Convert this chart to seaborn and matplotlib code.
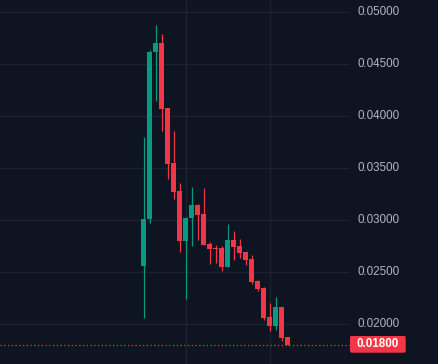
import matplotlib
matplotlib.use("Agg")
import matplotlib.pyplot as plt
import seaborn as sns
import pandas as pd
from matplotlib.patches import FancyBboxPatch

# ---- data ----
opens  = [0.02561, 0.03010, 0.04618, 0.04705, 0.04080, 0.03551, 0.03282, 0.02801,
          0.03022, 0.03147, 0.03061, 0.02772, 0.02734, 0.02734, 0.02551, 0.02811,
          0.02753, 0.02695, 0.02628, 0.02416, 0.02349, 0.02070, 0.01984, 0.02166,
          0.01878]
highs  = [0.03801, 0.04638, 0.04878, 0.04791, 0.04080, 0.03859, 0.03359, 0.03032,
          0.03320, 0.03157, 0.03311, 0.02791, 0.02762, 0.02753, 0.02964, 0.02897,
          0.02820, 0.02705, 0.02666, 0.02426, 0.02359, 0.02205, 0.02263, 0.02166,
          0.01878]
lows   = [0.02063, 0.02977, 0.04147, 0.03859, 0.03397, 0.03205, 0.02695, 0.02243,
          0.02753, 0.02811, 0.02762, 0.02580, 0.02589, 0.02512, 0.02551, 0.02618,
          0.02637, 0.02570, 0.02388, 0.02320, 0.02041, 0.01936, 0.01945, 0.01840,
          0.01800]
closes = [0.03010, 0.04618, 0.04705, 0.04070, 0.03541, 0.03272, 0.02801, 0.03022,
          0.03147, 0.03051, 0.02762, 0.02724, 0.02725, 0.02551, 0.02811, 0.02743,
          0.02686, 0.02618, 0.02407, 0.02339, 0.02061, 0.01984, 0.02166, 0.01868,
          0.01800]
y_ticks = [0.020, 0.025, 0.030, 0.035, 0.040, 0.045, 0.050]
y_tick_labels = ["0.02000", "0.02500", "0.03000", "0.03500", "0.04000", "0.04500", "0.05000"]
last_price = 0.018
last_price_label = "0.01800"
time_grid_idx = [7, 21]

BG = "#0e1421"
GRID = "#1c2230"
UP = "#089981"
DOWN = "#f23645"
TXT = "#b2b5be"

df = pd.DataFrame({"open": opens, "high": highs, "low": lows, "close": closes})
df["i"] = range(len(df))
df["up"] = df["close"] >= df["open"]
df["bottom"] = df[["open", "close"]].min(axis=1)
df["height"] = (df["close"] - df["open"]).abs().clip(lower=0.00009)

sns.set_theme(style="dark", rc={"axes.facecolor": BG, "figure.facecolor": BG})
plt.rcParams["font.family"] = ["Liberation Sans", "DejaVu Sans"]

W, H = 438, 364
fig = plt.figure(figsize=(W / 100, H / 100), dpi=100)
axw = 350
ax = fig.add_axes([0, 0, axw / W, 1])
ax.set_facecolor(BG)

# pixel mapping: candle i center at x=143.5+6i ; price 0.05 at y=12.3 px, 10400 px per unit
ax.set_xlim(-143.5 / 6, (axw - 143.5) / 6)
ax.set_ylim(0.05 - (H - 12.3) / 10400, 0.05 + 12.3 / 10400)

# grid
for t in y_ticks:
    ax.axhline(t, color=GRID, lw=1.0, zorder=0)
for gi in time_grid_idx:
    ax.axvline(gi, color=GRID, lw=1.0, zorder=0)

# wicks
colors = [UP if u else DOWN for u in df["up"]]
ax.vlines(df["i"], df["low"], df["high"], colors=colors, lw=0.9, zorder=2)
# bodies
ax.bar(df["i"], df["height"], bottom=df["bottom"], width=5 / 6, color=colors,
       linewidth=0, zorder=3)

# last price dotted line
ax.axhline(last_price, color=DOWN, lw=0.9, linestyle=(0, (1, 2)), zorder=1)

ax.set_xticks([])
ax.set_yticks([])
for s in ax.spines.values():
    s.set_visible(False)

# right price scale labels
for t, lab in zip(y_ticks, y_tick_labels):
    ax.text(358 / axw, t, lab, transform=ax.get_yaxis_transform(), ha="left",
            va="center", color=TXT, fontsize=8.4, clip_on=False)

# last price label box
x0, x1 = 350, 405.7
y0, y1 = H - 352.7, H - 336
box = FancyBboxPatch((x0 / W, y0 / H), (x1 - x0) / W, (y1 - y0) / H,
                     boxstyle="round,pad=0,rounding_size=0.004",
                     transform=fig.transFigure, facecolor=DOWN, edgecolor="none")
fig.patches.append(box)
fig.text((x0 + x1) / 2 / W, (y0 + y1) / 2 / H, last_price_label, ha="center",
         va="center", color="white", fontsize=8.4, fontweight="bold")

fig.savefig("out.png", dpi=100, facecolor=BG)
